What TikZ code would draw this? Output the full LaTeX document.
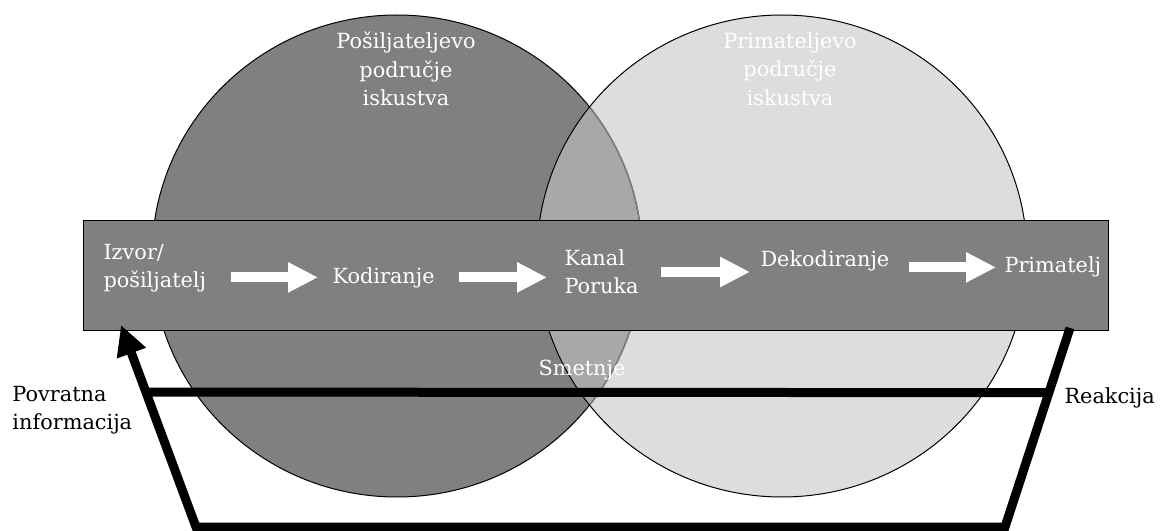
\documentclass[tikz,border=0pt]{standalone}
\usepackage{fontspec}
\setmainfont{DejaVu Serif}
\usetikzlibrary{arrows.meta,calc,positioning}

\definecolor{darkarea}{HTML}{808080}
\definecolor{lightarea}{HTML}{DDDDDD}
\definecolor{commonarea}{HTML}{A8A8A8}

\begin{document}
\begin{tikzpicture} [x=0.6pt,y=-0.6pt,line width=0.6pt,
  lbl/.style={font=\fontsize{12.5}{17}\selectfont,text=white,inner sep=0pt,align=left},
  blk/.style={lbl,text=black},
  flow/.style={draw=white,line width=6pt,-{Triangle[length=18pt,width=17pt]}},
  feedback/.style={draw=black,line width=5.4pt}]

  \useasboundingbox (0,0) rectangle (1162,531);

  % experience areas
  \fill[darkarea] (397,256) ellipse [x radius=147pt,y radius=144.6pt];
  \fill[lightarea] (782,256) ellipse [x radius=147pt,y radius=144.6pt];
  \begin{scope}
    \clip (782,256) ellipse [x radius=147pt,y radius=144.6pt];
    \fill[commonarea] (397,256) ellipse [x radius=147pt,y radius=144.6pt];
  \end{scope}
  \draw (397,256) ellipse [x radius=147pt,y radius=144.6pt];
  \begin{scope}
    \clip (782,256) ellipse [x radius=147pt,y radius=144.6pt];
    \draw[gray,line width=0.9pt] (397,256) ellipse [x radius=147pt,y radius=144.6pt];
  \end{scope}
  \draw (782,256) ellipse [x radius=147pt,y radius=144.6pt];

  % band
  \draw[fill=darkarea] (83,221) rectangle (1108,330);

  \node[lbl,align=center] (posilj) at (406,69) {Pošiljateljevo\\područje\\iskustva};
  \node[lbl,align=center] (primat) at (790,69) {Primateljevo\\područje\\iskustva};

  \node[lbl,anchor=west] (izvor) at (103,268) {Izvor/\\pošiljatelj};
  \node[lbl,anchor=base west] (kod) at (332,283) {Kodiranje};
  \node[lbl,anchor=west] (kanal) at (564,272) {Kanal\\Poruka};
  \node[lbl,anchor=base west] (dekod) at (760,267) {Dekodiranje};
  \node[lbl,anchor=base west] (prim) at (1004,273) {Primatelj};
  \node[lbl,anchor=base west] (smet) at (538,375) {Smetnje};
  \node[blk,anchor=base west] (reak) at (1064,403) {Reakcija};
  \node[blk,anchor=west] (povr) at (12,410) {Povratna\\informacija};

  \draw[flow,shorten <=14.4pt,shorten >=8.4pt] (izvor.east |- kod) -- (kod.west);
  \draw[flow,shorten <=14.4pt,shorten >=10.2pt] (kod.east) -- (kod.east -| kanal.west);
  \draw[flow,shorten <=13.2pt,shorten >=6pt] (kanal.east) -- (kanal.east -| dekod.west);
  \draw[flow,shorten <=11.4pt,shorten >=4.8pt] (prim.west -| dekod.east) -- (prim.west);

  % feedback loop
  \coordinate (rtop) at (1070,328);
  \coordinate (rbot) at (1005,527);
  \coordinate (lbot) at (196,527);
  \coordinate (ltip) at (121,325);
  \draw[feedback,-{Triangle[length=18pt,width=17.4pt]}] (rtop) -- (rbot) -- (lbot) -- (ltip);
  \coordinate (lmid) at ($(lbot)!0.668!(ltip)$);
  \coordinate (rmid) at ($(rbot)!0.675!(rtop)$);
  \draw[feedback] (lmid) -- (rmid);

\end{tikzpicture}
\end{document}
